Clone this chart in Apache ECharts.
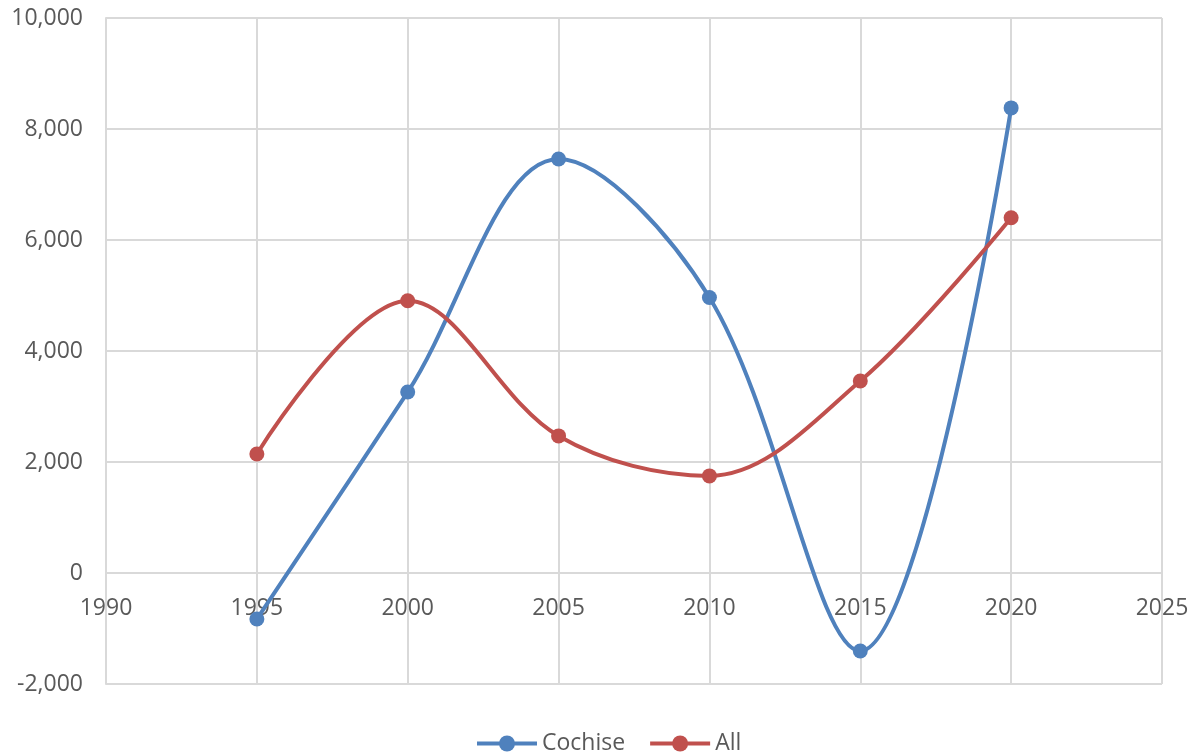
<!DOCTYPE html>
<html>
<head>
<meta charset="utf-8">
<script src="https://cdn.jsdelivr.net/npm/echarts@6/dist/echarts.min.js"></script>
<style>html,body{margin:0;padding:0;background:#fff}#c{width:1194px;height:754px}</style>
</head>
<body>
<div id="c"></div>
<script>
const years = [1995, 2000, 2005, 2010, 2015, 2020];
const cochise = [-830, 3260, 7460, 4965, -1405, 8380];
const all = [2145, 4905, 2470, 1750, 3460, 6400];
const seriesNames = ['Cochise', 'All'];
const colors = ['#4f81bd', '#c0504d'];
const yMin = -2000, yMax = 10000, yStep = 2000;

const font = '"Open Sans", sans-serif';
const gridTop = 18, gridBottom = 70, H = 754;
const plotH = H - gridTop - gridBottom;
const zeroOffset = -plotH * (0 - yMin) / (yMax - yMin);

const chart = echarts.init(document.getElementById('c'));
function pairs(v){ return years.map((y,i)=>[y, v[i]]); }
chart.setOption({
  animation: false,
  grid: { left: 106, right: 32, top: gridTop, bottom: gridBottom, containLabel: false },
  legend: {
    top: 727, left: 470, itemWidth: 60, itemHeight: 20, itemGap: 23,
    lineStyle: { width: 4 },
    textStyle: { fontFamily: font, fontSize: 23, color: '#595959' },
    data: seriesNames
  },
  xAxis: {
    type: 'value', min: 1990, max: 2025, interval: 5,
    position: 'bottom', offset: zeroOffset,
    axisLine: { show: true, onZero: false, lineStyle: { color: '#d9d9d9', width: 2 } },
    axisTick: { show: false },
    axisLabel: { fontFamily: font, fontSize: 23, color: '#595959', margin: 24, formatter: v => String(v) },
    splitLine: { show: true, lineStyle: { color: '#d9d9d9', width: 2 } }
  },
  yAxis: {
    type: 'value', min: yMin, max: yMax, interval: yStep,
    axisLine: { show: true, onZero: false, lineStyle: { color: '#d9d9d9', width: 2 } },
    axisTick: { show: false },
    axisLabel: { fontFamily: font, fontSize: 23, color: '#595959', margin: 23,
      formatter: v => v.toLocaleString('en-US') },
    splitLine: { show: true, lineStyle: { color: '#d9d9d9', width: 2 } }
  },
  series: [
    { name: seriesNames[0], type: 'line', smooth: 0.35, data: pairs(cochise),
      symbol: 'circle', symbolSize: 15, color: colors[0],
      lineStyle: { width: 4, color: colors[0] }, itemStyle: { color: colors[0] } },
    { name: seriesNames[1], type: 'line', smooth: 0.35, data: pairs(all),
      symbol: 'circle', symbolSize: 15, color: colors[1],
      lineStyle: { width: 4, color: colors[1] }, itemStyle: { color: colors[1] } }
  ]
});
</script>
</body>
</html>
